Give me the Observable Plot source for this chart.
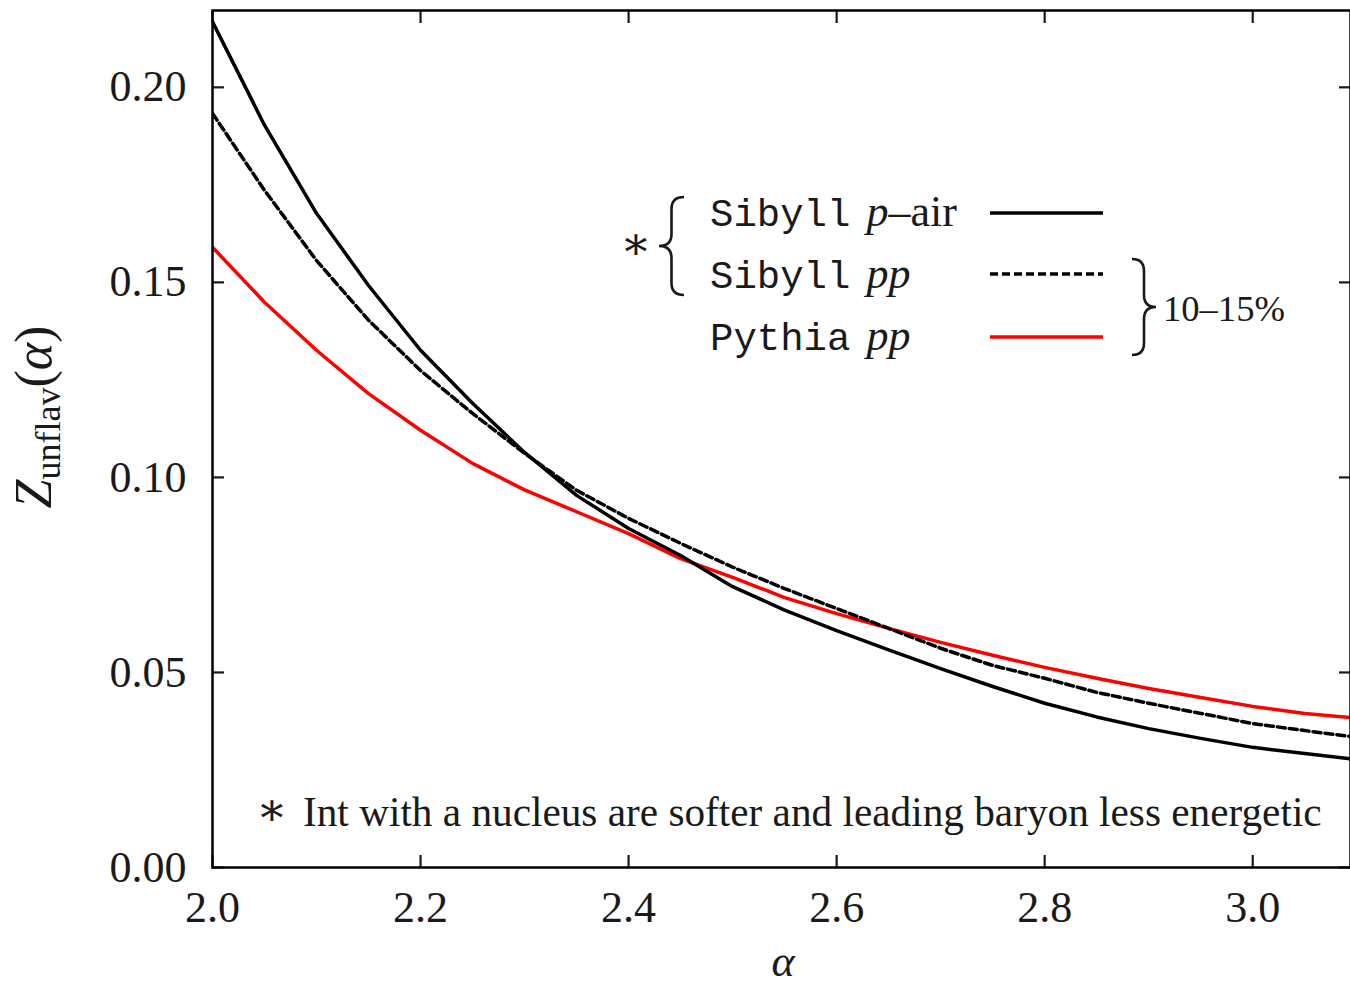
<!DOCTYPE html>
<html>
<head>
<meta charset="utf-8">
<script src="https://cdn.jsdelivr.net/npm/d3@7"></script>
<script src="https://cdn.jsdelivr.net/npm/@observablehq/plot@0.6"></script>
<style>
  html, body { margin: 0; padding: 0; background: #fff; }
  #chart svg { display: block; }
</style>
</head>
<body>
<div id="chart"></div>
<script>
// ---- data ----
const alpha = [2.00, 2.05, 2.10, 2.15, 2.20, 2.25, 2.30, 2.35, 2.40, 2.45, 2.50, 2.55,
               2.60, 2.65, 2.70, 2.75, 2.80, 2.85, 2.90, 2.95, 3.00, 3.05, 3.10];
const sibyllPAir = [0.2168, 0.1903, 0.1677, 0.1492, 0.1326, 0.1190, 0.1064, 0.0954, 0.0869, 0.0800, 0.0720, 0.0660,
                    0.0607, 0.0558, 0.0510, 0.0464, 0.0421, 0.0386, 0.0356, 0.0331, 0.0308, 0.0292, 0.0277];
const sibyllPP   = [0.1933, 0.1736, 0.1556, 0.1403, 0.1274, 0.1164, 0.1062, 0.0967, 0.0895, 0.0831, 0.0770, 0.0715,
                    0.0664, 0.0613, 0.0562, 0.0518, 0.0485, 0.0449, 0.0421, 0.0395, 0.0369, 0.0351, 0.0334];
const pythiaPP   = [0.1590, 0.1449, 0.1326, 0.1215, 0.1121, 0.1036, 0.0968, 0.0912, 0.0856, 0.0792, 0.0744, 0.0692,
                    0.0651, 0.0613, 0.0577, 0.0544, 0.0513, 0.0485, 0.0459, 0.0436, 0.0413, 0.0395, 0.0383];
const xTicks = [2.0, 2.2, 2.4, 2.6, 2.8, 3.0];
const yTicks = [0.00, 0.05, 0.10, 0.15, 0.20];
const xDomain = [2.0, 3.094];
const yDomain = [0, 0.2197];

const toRows = (vals) => alpha.map((a, i) => ({alpha: a, z: vals[i]}));

const SERIF = "'Liberation Serif', 'DejaVu Serif', serif";
const MONO = "'Liberation Mono', 'DejaVu Sans Mono', monospace";
const INK = "#1a1a1a";

const plot = Plot.plot({
  width: 1350,
  height: 985,
  marginLeft: 212,
  marginRight: 0,
  marginTop: 10,
  marginBottom: 118,
  x: {domain: xDomain},
  y: {domain: yDomain},
  style: {fontFamily: SERIF, fontSize: "44px", color: INK, background: "#fff", overflow: "visible"},
  marks: [
    Plot.lineY(toRows(pythiaPP), {x: "alpha", y: "z", stroke: "#ff0000", strokeWidth: 3.5, clip: true}),
    Plot.lineY(toRows(sibyllPP), {x: "alpha", y: "z", stroke: "#000", strokeWidth: 3.5, strokeDasharray: "8,4", clip: true}),
    Plot.lineY(toRows(sibyllPAir), {x: "alpha", y: "z", stroke: "#000", strokeWidth: 3.5, clip: true}),
    // tick labels
    Plot.axisX({anchor: "bottom", ticks: xTicks, tickSize: 0, tickPadding: 23, tickFormat: d3.format(".1f"), label: null}),
    Plot.axisY({anchor: "left", ticks: yTicks, tickSize: 0, tickPadding: 26, tickFormat: d3.format(".2f"), label: null}),
    // inward ticks on all four sides
    Plot.axisX({anchor: "bottom", ticks: xTicks, tickSize: 12, dy: -12, strokeWidth: 2.2, tickFormat: () => "", label: null}),
    Plot.axisX({anchor: "top", ticks: xTicks, tickSize: 12, dy: 12, strokeWidth: 2.2, tickFormat: () => "", label: null}),
    Plot.axisY({anchor: "left", ticks: yTicks, tickSize: 12, dx: 12, strokeWidth: 2.2, tickFormat: () => "", label: null}),
    Plot.axisY({anchor: "right", ticks: yTicks, tickSize: 12, dx: -12, strokeWidth: 2.2, tickFormat: () => "", label: null}),
    Plot.frame({stroke: "#000", strokeWidth: 2.5})
  ]
});

document.getElementById("chart").appendChild(plot);

// ---- annotations: axis titles, legend, footnote ----
const svg = d3.select(plot);
const g = svg.append("g").attr("fill", INK).attr("font-family", SERIF).attr("text-anchor", "start");

function fitText(sel, target) {
  const len = sel.node().getComputedTextLength();
  const fs = parseFloat(sel.attr("font-size"));
  sel.attr("font-size", (fs * target / len).toFixed(2));
}

// x-axis title
g.append("text").attr("x", 783).attr("y", 976).attr("text-anchor", "middle")
  .attr("font-size", 44).attr("font-style", "italic").text("α");

// y-axis title  Z_unflav(α)
const yl = g.append("text").attr("transform", "translate(51,417) rotate(-90)")
  .attr("text-anchor", "middle").attr("font-size", 52);
yl.append("tspan").attr("font-style", "italic").text("Z");
yl.append("tspan").attr("font-size", 36).attr("dy", 9).text("unflav");
yl.append("tspan").attr("dy", -9).text("(");
yl.append("tspan").attr("font-style", "italic").text("α");
yl.append("tspan").text(")");

// legend
const legendRows = [
  {mono: "Sibyll", it: "p", rest: "–air", baseline: 226, lineY: 213, stroke: "#000", dash: null},
  {mono: "Sibyll", it: "pp", rest: "", baseline: 288, lineY: 274, stroke: "#000", dash: "8,4"},
  {mono: "Pythia", it: "pp", rest: "", baseline: 350, lineY: 337, stroke: "#ff0000", dash: null}
];
legendRows.forEach(r => {
  const t = g.append("text").attr("x", 710).attr("y", r.baseline).attr("font-size", 44);
  t.append("tspan").attr("font-family", MONO).attr("font-size", 39).text(r.mono);
  t.append("tspan").attr("dx", 16).attr("font-style", "italic").text(r.it);
  if (r.rest) t.append("tspan").text(r.rest);
  g.append("line").attr("x1", 990).attr("x2", 1103).attr("y1", r.lineY).attr("y2", r.lineY)
    .attr("stroke", r.stroke).attr("stroke-width", 3.5).attr("stroke-dasharray", r.dash);
});

function brace(xFlat, xTip, y0, y1) {
  const ym = (y0 + y1) / 2, xm = (xFlat + xTip) / 2, r = 12;
  return `M${xFlat},${y0} Q${xm},${y0} ${xm},${y0 + r} L${xm},${ym - r} Q${xm},${ym} ${xTip},${ym}` +
         ` Q${xm},${ym} ${xm},${ym + r} L${xm},${y1 - r} Q${xm},${y1} ${xFlat},${y1}`;
}
g.append("path").attr("d", brace(684, 659, 197, 295)).attr("fill", "none").attr("stroke", INK).attr("stroke-width", 2.6);
g.append("path").attr("d", brace(1132, 1156, 259, 355)).attr("fill", "none").attr("stroke", INK).attr("stroke-width", 2.6);
g.append("text").attr("x", 636).attr("y", 259).attr("text-anchor", "middle").attr("font-size", 46).text("∗");
const pct = g.append("text").attr("x", 1163).attr("y", 321).attr("font-size", 38).text("10–15%");
fitText(pct, 122);

// footnote
g.append("text").attr("x", 272).attr("y", 825).attr("text-anchor", "middle").attr("font-size", 46).text("∗");
const fn = g.append("text").attr("x", 303).attr("y", 826).attr("font-size", 36)
  .text("Int with a nucleus are softer and leading baryon less energetic");
fitText(fn, 1019);
</script>
</body>
</html>
